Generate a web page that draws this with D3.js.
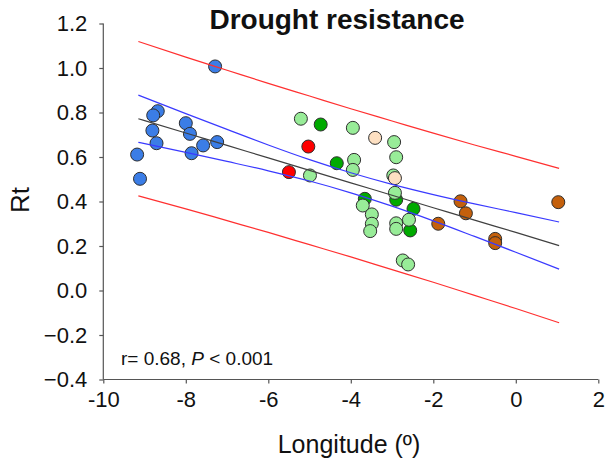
<!DOCTYPE html>
<html>
<head>
<meta charset="utf-8">
<script src="https://cdn.jsdelivr.net/npm/d3@7"></script>
<style>
  body { margin: 0; background: #fff; }
  svg { font-family: "Liberation Sans", Arial, sans-serif; }
</style>
</head>
<body>
<svg id="chart" width="613" height="466"></svg>
<script>
// longitude (deg), Rt
var bluePts = [[-8.68, 0.806], [-8.79, 0.787], [-8.81, 0.719], [-8.71, 0.662], [-9.18, 0.611],
  [-9.11, 0.502], [-8.00, 0.752], [-7.90, 0.704], [-7.86, 0.617], [-7.58, 0.652],
  [-7.24, 0.667], [-7.29, 1.007]];
var redPts = [[-5.03, 0.647], [-5.50, 0.532]];
var lightPts = [[-5.21, 0.772], [-3.95, 0.731], [-3.92, 0.587], [-3.95, 0.542], [-4.99, 0.517],
  [-2.95, 0.667], [-2.90, 0.599], [-2.97, 0.517], [-2.93, 0.439], [-2.59, 0.318],
  [-2.90, 0.302], [-2.90, 0.277], [-3.71, 0.382], [-3.49, 0.342], [-3.49, 0.300],
  [-3.53, 0.267], [-2.74, 0.135], [-2.61, 0.117]];
var darkPts = [[-4.73, 0.746], [-4.34, 0.572], [-3.66, 0.412], [-2.90, 0.408], [-2.48, 0.367],
  [-2.56, 0.270]];
var peachPts = [[-3.41, 0.686], [-2.93, 0.505]];
var brownPts = [[-1.34, 0.401], [-1.21, 0.347], [-1.88, 0.300], [-0.50, 0.232], [-0.50, 0.213],
  [1.03, 0.397]];

// regression line and bands
var lineLon = [-9.15, -8, -7, -6, -5, -4, -3, -2, -1, 0, 1.05];
var fitRt = [0.772, 0.708, 0.652, 0.596, 0.540, 0.484, 0.428, 0.372, 0.316, 0.261, 0.202];
var ciUpper = [0.878, 0.795, 0.724, 0.654, 0.588, 0.529, 0.477, 0.431, 0.389, 0.350, 0.308];
var ciLower = [0.666, 0.621, 0.580, 0.538, 0.492, 0.439, 0.379, 0.313, 0.243, 0.172, 0.096];
var piUpper = [1.119, 1.049, 0.990, 0.931, 0.874, 0.817, 0.762, 0.707, 0.654, 0.603, 0.549];
var piLower = [0.425, 0.367, 0.314, 0.261, 0.206, 0.151, 0.094, 0.037, -0.022, -0.081, -0.145];

var xTicks = [-10, -8, -6, -4, -2, 0, 2];
var yTicks = [-0.4, -0.2, 0.0, 0.2, 0.4, 0.6, 0.8, 1.0, 1.2];

var svg = d3.select("#chart");

var x = d3.scaleLinear().domain([-10, 2]).range([103.3, 598.3]);
var y = d3.scaleLinear().domain([-0.4, 1.2]).range([379.5, 23.5]);

var groups = [
  { pts: bluePts, fill: "#3b7de6" },
  { pts: redPts, fill: "#ff0000" },
  { pts: darkPts, fill: "#00aa00" },
  { pts: lightPts, fill: "#98ec98" },
  { pts: peachPts, fill: "#fde0c2" },
  { pts: brownPts, fill: "#c4600c" }
];

var plot = svg.append("g");

groups.forEach(function (g) {
  plot.selectAll(null)
    .data(g.pts)
    .enter().append("circle")
    .attr("cx", function (d) { return x(d[0]); })
    .attr("cy", function (d) { return y(d[1]); })
    .attr("r", 6.5)
    .attr("fill", g.fill)
    .attr("stroke", "#2e2e2e")
    .attr("stroke-width", 1);
});

var line = d3.line()
  .x(function (d, i) { return x(lineLon[i]); })
  .y(function (d) { return y(d); })
  .curve(d3.curveMonotoneX);

[[piUpper, "#ff3030"], [piLower, "#ff3030"], [ciUpper, "#3a3aff"], [ciLower, "#3a3aff"],
 [fitRt, "#404040"]].forEach(function (l) {
  plot.append("path")
    .attr("d", line(l[0]))
    .attr("fill", "none")
    .attr("stroke", l[1])
    .attr("stroke-width", 1.2);
});

// axes
var xAxis = svg.append("g")
  .attr("transform", "translate(0," + y(-0.4) + ")")
  .call(d3.axisBottom(x).tickValues(xTicks).tickSize(4).tickPadding(8)
    .tickFormat(function (d) { return d; }));
var yAxis = svg.append("g")
  .attr("transform", "translate(" + x(-10) + ",0)")
  .call(d3.axisLeft(y).tickValues(yTicks).tickSize(4).tickPadding(12)
    .tickFormat(d3.format(".1f")));

[xAxis, yAxis].forEach(function (a) {
  a.select(".domain").attr("stroke", "#555").attr("stroke-width", 1.2);
  a.selectAll(".tick line").attr("stroke", "#555").attr("stroke-width", 1.2);
  a.selectAll("text").attr("fill", "#111").style("font-size", "22px")
    .style("font-family", "'Liberation Sans', Arial, sans-serif");
});
xAxis.selectAll("text").attr("dy", "0.71em");
yAxis.select(".domain").attr("d", "M0," + y(1.2) + "V" + y(-0.4));
xAxis.select(".domain").attr("d", "M" + x(-10) + ",0H" + x(2));

svg.append("text")
  .attr("x", 337).attr("y", 29)
  .attr("text-anchor", "middle")
  .style("font-size", "28px").style("font-weight", "bold")
  .attr("fill", "#111")
  .text("Drought resistance");

svg.append("text")
  .attr("x", 349).attr("y", 453)
  .attr("text-anchor", "middle")
  .style("font-size", "25px")
  .attr("fill", "#111")
  .text("Longitude (º)");

svg.append("text")
  .attr("transform", "translate(29,200) rotate(-90)")
  .attr("text-anchor", "middle")
  .style("font-size", "26px")
  .attr("fill", "#111")
  .text("Rt");

var note = svg.append("text")
  .attr("x", 121).attr("y", 365)
  .style("font-size", "19px")
  .attr("fill", "#111");
note.append("tspan").text("r= 0.68, ");
note.append("tspan").style("font-style", "italic").text("P");
note.append("tspan").text(" < 0.001");
</script>
</body>
</html>
